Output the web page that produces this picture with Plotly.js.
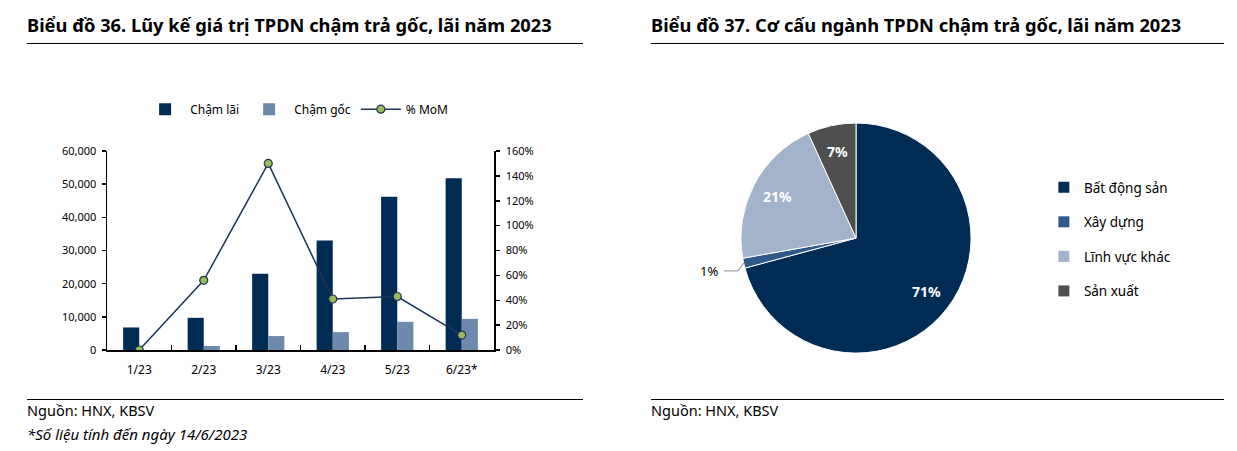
<!DOCTYPE html>
<html>
<head>
<meta charset="utf-8">
<script src="https://cdn.plot.ly/plotly-3.0.1.min.js"></script>
<style>
    body { margin: 0; background: #fff; font-family: 'Noto Sans', sans-serif; color: #000; }
    #page { position: relative; width: 1237px; height: 451px; overflow: hidden; }
    .title { position: absolute; top: 12px; font-weight: bold; font-size: 18.3px; white-space: nowrap; }
    .rule { position: absolute; height: 0; border-top: 1.5px solid #000; }
    .note { position: absolute; font-size: 14.5px; white-space: nowrap; }
    .chart { position: absolute; top: 60px; height: 320px; }
</style>
</head>
<body>
<div id="page">
    <div class="title" style="left:27px">Biểu đồ 36. Lũy kế giá trị TPDN chậm trả gốc, lãi năm 2023</div>
    <div class="rule" style="left:27px; width:556px; top:43px"></div>
    <div class="title" style="left:651px">Biểu đồ 37. Cơ cấu ngành TPDN chậm trả gốc, lãi năm 2023</div>
    <div class="rule" style="left:651px; width:573px; top:43px"></div>

    <div id="bar-chart" class="chart" style="left:0; width:600px"></div>
    <div id="pie-chart" class="chart" style="left:620px; width:617px"></div>

    <div class="rule" style="left:27px; width:556px; top:399px; border-top-width:1px"></div>
    <div class="rule" style="left:651px; width:573px; top:399px; border-top-width:1px"></div>
    <div class="note" style="left:27px; top:400px">Nguồn: HNX, KBSV</div>
    <div class="note" style="left:27px; top:424px; font-style:italic; font-size:15px">*Số liệu tính đến ngày 14/6/2023</div>
    <div class="note" style="left:651px; top:400px">Nguồn: HNX, KBSV</div>
</div>

<script>
    // Chart 36: cumulative value of delayed payments (bn VND) and % MoM
    const months = ['1/23', '2/23', '3/23', '4/23', '5/23', '6/23*'];
    const chamLai = [6800, 9700, 23000, 33000, 46200, 51800];
    const chamGoc = [0, 1200, 4200, 5400, 8500, 9400];
    const momPct = [0, 0.56, 1.50, 0.41, 0.43, 0.12];

    // Chart 37: sector breakdown (%)
    const sectors = ['Bất động sản', 'Xây dựng', 'Lĩnh vực khác', 'Sản xuất'];
    const sectorShare = [70.8, 1.4, 21.0, 6.8];

    const NAVY = '#002b55';
    const STEEL = '#6d89ae';
    const SECTOR_COLORS = ['#002b55', '#2d5a89', '#a3b3cb', '#4f4f4f'];
    const FONT = 'Noto Sans, sans-serif';
    const config = { responsive: false, displayModeBar: false, staticPlot: true };

    const barTraces = [
        {
            type: 'bar', name: 'Chậm lãi', x: months, y: chamLai,
            marker: { color: NAVY }
        },
        {
            type: 'bar', name: 'Chậm gốc', x: months, y: chamGoc,
            marker: { color: STEEL }
        },
        {
            type: 'scatter', mode: 'lines+markers', name: '% MoM', x: months, y: momPct,
            yaxis: 'y2',
            line: { color: '#1c3557', width: 1.5 },
            marker: { size: 8, color: '#9bbb59', line: { color: '#1c3557', width: 1.2 } }
        }
    ];

    const axisBase = {
        showline: true, linecolor: '#000', linewidth: 1.5,
        showgrid: false, zeroline: false,
        tickcolor: '#000', tickwidth: 1.5,
        tickfont: { size: 11, color: '#000', family: FONT }
    };
    // second copy of each value axis with inward ticks, so ticks cross the axis line
    const innerTicks = {
        showline: false, showgrid: false, zeroline: false, showticklabels: false,
        ticks: 'inside', ticklen: 4, tickcolor: '#000', tickwidth: 1.5
    };

    const barLayout = {
        width: 600, height: 320,
        margin: { l: 107, r: 106, t: 91, b: 30 },
        paper_bgcolor: '#fff', plot_bgcolor: '#fff',
        font: { family: FONT, color: '#000' },
        barmode: 'group', bargap: 0.5, bargroupgap: 0,
        showlegend: true,
        legend: {
            orientation: 'h', x: 0.49, xanchor: 'center', y: 1.21, yanchor: 'middle',
            font: { size: 12, color: '#000' }, traceorder: 'normal', itemwidth: 40
        },
        xaxis: Object.assign({}, axisBase, {
            type: 'category', ticks: 'inside', ticklen: 5, tickson: 'boundaries',
            ticklabelstandoff: 8,
            tickfont: { size: 12, color: '#000', family: FONT }
        }),
        yaxis: Object.assign({}, axisBase, {
            range: [0, 60000], dtick: 10000, tickformat: ',d',
            ticks: 'outside', ticklen: 4, ticklabelstandoff: 3
        }),
        yaxis2: Object.assign({}, axisBase, {
            overlaying: 'y', side: 'right',
            range: [0, 1.6], dtick: 0.2, tickformat: '.0%',
            ticks: 'outside', ticklen: 4, ticklabelstandoff: 4
        }),
        yaxis3: Object.assign({}, innerTicks, {
            overlaying: 'y', side: 'left', range: [0, 60000], dtick: 10000
        }),
        yaxis4: Object.assign({}, innerTicks, {
            overlaying: 'y', side: 'right', range: [0, 1.6], dtick: 0.2
        })
    };

    Plotly.newPlot('bar-chart', barTraces, barLayout, config);

    // Pie; legend is drawn with empty square-marker traces so row spacing can be set
    const PIE_DOMAIN = { x: [0.196, 0.569], y: [0.084, 0.803] };
    const PIE_W = 617, PIE_H = 320;

    const pieTraces = [{
        type: 'pie', labels: sectors, values: sectorShare,
        sort: false, direction: 'clockwise', rotation: 0,
        marker: { colors: SECTOR_COLORS, line: { color: '#fff', width: 1 } },
        textinfo: 'none',
        domain: PIE_DOMAIN,
        showlegend: false, hoverinfo: 'none'
    }];
    sectors.forEach((name, i) => {
        pieTraces.push({
            type: 'scatter', mode: 'markers', x: [null], y: [null], name: name,
            legendgroup: 'g' + i,
            marker: { symbol: 'square', size: 11, color: SECTOR_COLORS[i] }
        });
    });

    // Percent labels placed Excel-style at 77% of the radius, small slices outside with a leader
    const cx = (PIE_DOMAIN.x[0] + PIE_DOMAIN.x[1]) / 2;
    const cy = (PIE_DOMAIN.y[0] + PIE_DOMAIN.y[1]) / 2;
    const radius = Math.min((PIE_DOMAIN.x[1] - PIE_DOMAIN.x[0]) * PIE_W,
                            (PIE_DOMAIN.y[1] - PIE_DOMAIN.y[0]) * PIE_H) / 2;
    const total = sectorShare.reduce((a, b) => a + b, 0);
    const pieAnnotations = [];
    const pieShapes = [];
    const toPaper = (k, ang) => ({
        x: cx + radius * k * Math.sin(ang) / PIE_W,
        y: cy + radius * k * Math.cos(ang) / PIE_H
    });
    let cum = 0;
    sectorShare.forEach((v, i) => {
        const mid = (cum + v / 2) / total * 2 * Math.PI;
        cum += v;
        const pct = Math.round(v / total * 100) + '%';
        const small = v / total < 0.03;
        const p = toPaper(small ? 1.31 : 0.77, mid);
        pieAnnotations.push({
            text: small ? pct : '<b>' + pct + '</b>',
            xref: 'paper', yref: 'paper', x: p.x, y: p.y,
            xanchor: 'center', yanchor: 'middle', showarrow: false,
            font: { size: small ? 13 : 14, color: small ? '#000' : '#fff', family: FONT }
        });
        if (small) {
            const edge = toPaper(1.0, mid);
            const x0 = p.x + 15 / PIE_W, x1 = p.x + 29 / PIE_W;
            pieShapes.push({
                type: 'path', xref: 'paper', yref: 'paper',
                path: 'M ' + x0 + ' ' + p.y + ' L ' + x1 + ' ' + p.y + ' L ' + edge.x + ' ' + edge.y,
                line: { color: '#a6a6a6', width: 1.2 }
            });
        }
    });

    const pieLayout = {
        width: PIE_W, height: PIE_H,
        margin: { l: 0, r: 0, t: 0, b: 0 },
        paper_bgcolor: '#fff', plot_bgcolor: '#fff',
        font: { family: FONT, color: '#000' },
        xaxis: { visible: false }, yaxis: { visible: false },
        showlegend: true,
        legend: {
            x: 0.687, xanchor: 'left', y: 0.65, yanchor: 'top',
            tracegroupgap: 14, itemwidth: 30,
            font: { size: 13.5, color: '#000' }
        },
        annotations: pieAnnotations,
        shapes: pieShapes
    };

    Plotly.newPlot('pie-chart', pieTraces, pieLayout, config);
</script>
</body>
</html>
